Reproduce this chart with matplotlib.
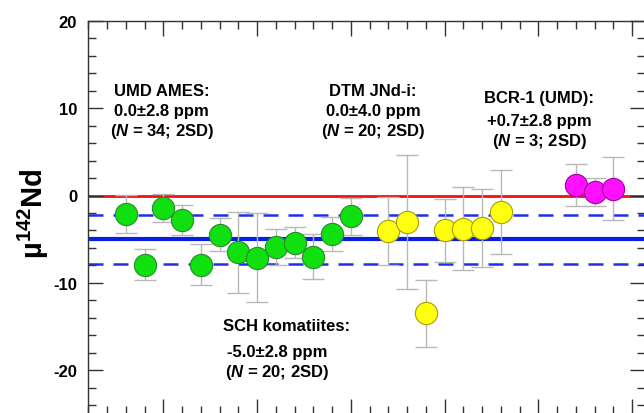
import matplotlib
matplotlib.use("Agg")
from matplotlib import pyplot as plt
from matplotlib.ticker import MultipleLocator

# measurement data (x = analysis number, y = mu142Nd, err = 2SE)
ames_x = [3, 4, 5, 6, 7, 8, 9, 10, 11, 12, 13, 14, 15]
ames_y = [-2.1, -7.9, -1.4, -2.8, -7.9, -4.5, -6.5, -7.1, -5.9, -5.4, -7.0, -4.4, -2.4]
ames_err = [2.2, 1.75, 1.6, 1.7, 2.3, 1.9, 4.65, 5.1, 2.1, 1.8, 2.6, 1.9, 2.1]

jndi_x = [17, 18, 19, 20, 21, 22, 23]
jndi_y = [-4.1, -3.0, -13.5, -4.0, -3.8, -3.7, -1.9]
jndi_err = [3.9, 7.65, 3.85, 3.6, 4.75, 4.5, 4.85]

bcr_x = [27, 28, 29]
bcr_y = [1.25, 0.4, 0.8]
bcr_err = [2.4, 1.6, 3.6]

sch_mean = -5.0
sch_2sd = 2.8

fnt = ["Liberation Sans Narrow", "Liberation Sans", "DejaVu Sans"]
plt.rcParams["font.family"] = fnt
plt.rcParams["font.weight"] = "bold"
plt.rcParams["axes.unicode_minus"] = False
plt.rcParams["mathtext.fontset"] = "custom"
plt.rcParams["mathtext.rm"] = "Liberation Sans:bold"
plt.rcParams["mathtext.it"] = "Liberation Sans:bold:italic"
plt.rcParams["mathtext.bf"] = "Liberation Sans:bold"
plt.rcParams["mathtext.default"] = "rm"

fig = plt.figure(figsize=(6.44, 4.14), dpi=100)
ax = fig.add_axes([88.3 / 644, -1.0 / 414, 556.7 / 644, 393.3 / 414])

# reference lines
ax.axhline(0, color="#f01010", lw=2, zorder=1)
ax.axhline(sch_mean, color="#0a1ee0", lw=3, zorder=1)
for v in (sch_mean + sch_2sd, sch_mean - sch_2sd):
    ax.axhline(v, color="#2030e8", lw=1.8, ls=(0, (6, 4)), zorder=1)

groups = [
    (ames_x, ames_y, ames_err, "#10e010", "#2a8a2a"),
    (jndi_x, jndi_y, jndi_err, "#ffff10", "#a8a000"),
    (bcr_x, bcr_y, bcr_err, "#ff10ff", "#a000a0"),
]
for xs, ys, es, fc, ec in groups:
    ax.errorbar(xs, ys, yerr=es, fmt="none", ecolor="#b8b8b8", elinewidth=1,
                capsize=8, capthick=1, zorder=2)
    ax.plot(xs, ys, "o", ms=16, mfc=fc, mec=ec, mew=0.8, zorder=3)

ax.set_xlim(1, 30.69)
ax.set_ylim(-25, 20)
ax.xaxis.set_major_locator(MultipleLocator(5))
ax.xaxis.set_minor_locator(MultipleLocator(1))
ax.yaxis.set_major_locator(MultipleLocator(10))
ax.yaxis.set_minor_locator(MultipleLocator(2))
ax.tick_params(which="both", direction="in", top=True, right=True, color="#333333",
               width=1, labelbottom=False)
ax.tick_params(which="major", length=11)
ax.tick_params(which="minor", length=5.5)
ax.tick_params(axis="y", labelsize=12, pad=8)
for s in ax.spines.values():
    s.set_color("#333333")
    s.set_linewidth(1)

fig.text(33 / 644, 1 - 214 / 414, "\u00b5$^{142}$Nd", rotation=90, ha="center",
         va="center", fontsize=21, fontweight="bold")

# annotations
ts = 12
for xc, lines in [(4.91, ["UMD AMES:", "0.0\u00b12.8 ppm", "($\\it{N}$ = 34; 2SD)"]),
                  (16.18, ["DTM JNd-i:", "0.0\u00b14.0 ppm", "($\\it{N}$ = 20; 2SD)"])]:
    for yb, t in zip([11.54, 9.26, 6.97], lines):
        ax.text(xc, yb, t, ha="center", va="baseline", fontsize=ts)
for yb, t in zip([10.74, 8.11, 5.83],
                 ["BCR-1 (UMD):", "+0.7\u00b12.8 ppm", "($\\it{N}$ = 3; 2SD)"]):
    ax.text(25.04, yb, t, ha="center", va="baseline", fontsize=ts)
for xl, yb, t in zip([8.2, 8.4, 8.3], [-15.43, -18.4, -20.7],
                     ["SCH komatiites:", "-5.0\u00b12.8 ppm", "($\\it{N}$ = 20; 2SD)"]):
    ax.text(xl, yb, t, ha="left", va="baseline", fontsize=ts)

fig.savefig("out.png", dpi=100)
